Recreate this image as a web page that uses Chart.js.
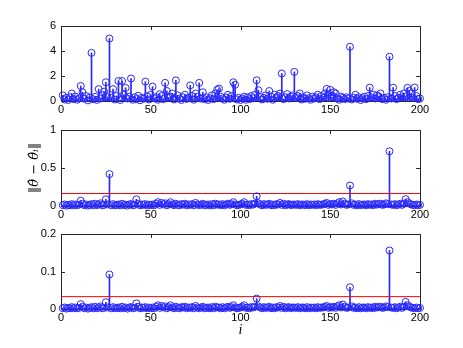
<!DOCTYPE html>
<html>
<head>
<meta charset="utf-8">
<script src="https://cdn.jsdelivr.net/npm/chart.js@4.4.1/dist/chart.umd.min.js"></script>
<style>
  html, body { margin: 0; padding: 0; background: #fff; }
  #wrap { position: relative; width: 463px; height: 348px; }
  canvas { position: absolute; left: 0; }
</style>
</head>
<body>
<div id="wrap">
  <canvas id="top" width="463" height="116" style="top:0px"></canvas>
  <canvas id="mid" width="463" height="106" style="top:116px"></canvas>
  <canvas id="bot" width="463" height="126" style="top:222px"></canvas>
</div>
<script>
// values, i = 1..200
const errTop = [
  0.45, 0.12, 0.25, 0.08, 0.3, 0.6, 0.15, 0.35, 0.1, 0.22,
  1.2, 0.7, 0.18, 0.4, 0.05, 0.28, 3.85, 0.14, 0.33, 0.09,
  0.95, 0.2, 0.45, 0.75, 1.5, 0.3, 5.0, 0.25, 0.95, 0.12,
  0.4, 1.6, 0.08, 1.6, 0.5, 1.05, 0.2, 0.35, 1.8, 0.1,
  0.3, 0.15, 0.42, 0.06, 0.25, 0.18, 1.55, 0.38, 0.12, 0.5,
  1.15, 0.22, 0.3, 0.1, 0.55, 0.4, 0.15, 1.45, 0.8, 0.28,
  0.35, 0.6, 0.12, 1.65, 0.45, 0.2, 0.08, 0.3, 0.5, 0.17,
  0.25, 1.25, 0.4, 0.1, 0.6, 0.33, 1.45, 0.2, 0.7, 0.14,
  0.3, 0.08, 0.22, 0.45, 0.15, 0.6, 0.9, 1.0, 0.35, 0.2,
  0.1, 0.28, 0.5, 0.18, 0.4, 1.5, 1.3, 0.12, 0.25, 0.08,
  0.2, 0.35, 0.1, 0.3, 0.15, 0.4, 0.22, 0.5, 1.66, 0.86,
  0.3, 0.12, 0.25, 0.45, 0.18, 0.8, 0.35, 0.1, 0.5, 0.28,
  0.4, 0.6, 2.2, 0.15, 0.3, 0.55, 0.2, 0.35, 0.45, 2.33,
  0.25, 0.4, 0.6, 0.12, 0.3, 0.18, 0.45, 0.22, 0.1, 0.35,
  0.2, 0.3, 0.5, 0.15, 0.4, 0.25, 0.6, 0.97, 0.55, 0.9,
  0.3, 0.7, 0.6, 0.2, 0.1, 0.35, 0.25, 0.15, 0.3, 0.2,
  4.34, 0.12, 0.25, 0.5, 0.18, 0.3, 0.08, 0.22, 0.35, 0.15,
  0.4, 1.07, 0.3, 0.5, 0.2, 0.45, 0.35, 0.6, 0.15, 0.25,
  0.1, 0.3, 3.54, 0.2, 1.07, 0.4, 0.15, 0.25, 0.5, 0.3,
  0.6, 0.35, 1.05, 0.8, 0.6, 0.25, 1.08, 0.4, 0.15, 0.2
];
const errMid = [
  0.01, 0.02, 0.005, 0.015, 0.01, 0.025, 0.008, 0.02, 0.012, 0.018,
  0.07, 0.03, 0.01, 0.02, 0.005, 0.015, 0.025, 0.01, 0.03, 0.012,
  0.02, 0.035, 0.01, 0.015, 0.088, 0.02, 0.42, 0.01, 0.025, 0.008,
  0.015, 0.02, 0.01, 0.03, 0.012, 0.018, 0.005, 0.02, 0.025, 0.01,
  0.015, 0.088, 0.03, 0.01, 0.02, 0.015, 0.025, 0.008, 0.018, 0.012,
  0.02, 0.01, 0.03, 0.05, 0.015, 0.04, 0.02, 0.035, 0.01, 0.025,
  0.05, 0.02, 0.012, 0.03, 0.015, 0.01, 0.025, 0.018, 0.03, 0.01,
  0.02, 0.015, 0.025, 0.01, 0.04, 0.02, 0.012, 0.018, 0.03, 0.01,
  0.015, 0.02, 0.008, 0.025, 0.01, 0.03, 0.018, 0.02, 0.012, 0.025,
  0.01, 0.02, 0.03, 0.015, 0.025, 0.05, 0.02, 0.01, 0.015, 0.02,
  0.03, 0.05, 0.015, 0.02, 0.01, 0.025, 0.018, 0.03, 0.128, 0.035,
  0.02, 0.01, 0.025, 0.015, 0.02, 0.03, 0.012, 0.018, 0.01, 0.025,
  0.02, 0.04, 0.015, 0.03, 0.01, 0.02, 0.025, 0.012, 0.018, 0.02,
  0.015, 0.025, 0.01, 0.02, 0.018, 0.012, 0.025, 0.01, 0.02, 0.015,
  0.02, 0.012, 0.025, 0.015, 0.018, 0.02, 0.03, 0.04, 0.015, 0.025,
  0.02, 0.03, 0.015, 0.035, 0.05, 0.02, 0.06, 0.03, 0.015, 0.02,
  0.27, 0.035, 0.015, 0.02, 0.01, 0.025, 0.012, 0.018, 0.02, 0.01,
  0.025, 0.015, 0.02, 0.012, 0.03, 0.018, 0.025, 0.03, 0.015, 0.02,
  0.035, 0.025, 0.72, 0.02, 0.015, 0.025, 0.01, 0.02, 0.03, 0.015,
  0.03, 0.09, 0.05, 0.035, 0.02, 0.015, 0.01, 0.02, 0.012, 0.015
];
const errBot = [
  0.002, 0.004, 0.001, 0.003, 0.002, 0.005, 0.002, 0.004, 0.002, 0.003,
  0.013, 0.006, 0.002, 0.004, 0.001, 0.003, 0.005, 0.002, 0.006, 0.002,
  0.004, 0.007, 0.002, 0.003, 0.018, 0.004, 0.092, 0.002, 0.005, 0.002,
  0.003, 0.004, 0.002, 0.006, 0.002, 0.004, 0.001, 0.004, 0.005, 0.002,
  0.003, 0.015, 0.006, 0.002, 0.004, 0.003, 0.005, 0.002, 0.004, 0.002,
  0.004, 0.002, 0.006, 0.01, 0.003, 0.008, 0.004, 0.007, 0.002, 0.005,
  0.01, 0.004, 0.002, 0.006, 0.003, 0.002, 0.005, 0.004, 0.006, 0.002,
  0.004, 0.003, 0.005, 0.002, 0.008, 0.004, 0.002, 0.004, 0.006, 0.002,
  0.003, 0.004, 0.002, 0.005, 0.002, 0.006, 0.004, 0.004, 0.002, 0.005,
  0.002, 0.004, 0.006, 0.003, 0.005, 0.01, 0.004, 0.002, 0.003, 0.004,
  0.006, 0.01, 0.003, 0.004, 0.002, 0.005, 0.004, 0.006, 0.0276, 0.007,
  0.004, 0.002, 0.005, 0.003, 0.004, 0.006, 0.002, 0.004, 0.002, 0.005,
  0.004, 0.008, 0.003, 0.006, 0.002, 0.004, 0.005, 0.002, 0.004, 0.004,
  0.003, 0.005, 0.002, 0.004, 0.004, 0.002, 0.005, 0.002, 0.004, 0.003,
  0.004, 0.002, 0.005, 0.003, 0.004, 0.004, 0.006, 0.008, 0.003, 0.005,
  0.004, 0.006, 0.003, 0.007, 0.01, 0.004, 0.012, 0.006, 0.003, 0.004,
  0.058, 0.007, 0.003, 0.004, 0.002, 0.005, 0.002, 0.004, 0.004, 0.002,
  0.005, 0.003, 0.004, 0.002, 0.006, 0.004, 0.005, 0.006, 0.003, 0.004,
  0.007, 0.005, 0.156, 0.004, 0.003, 0.005, 0.002, 0.004, 0.006, 0.003,
  0.006, 0.019, 0.01, 0.007, 0.004, 0.003, 0.002, 0.004, 0.002, 0.003
];
const thresholdMid = 0.164;
const thresholdBot = 0.033;
const xTicks = [0, 50, 100, 150, 200];
const yTicksTop = [0, 2, 4, 6];
const yTicksMid = [0, 0.5, 1];
const yTicksBot = [0, 0.1, 0.2];

const BLUE = 'rgb(40,40,255)';
const tickFont = { family: 'Liberation Sans', size: 11 };

// box + inward tick marks, matlab style
const framePlugin = {
  id: 'frame',
  beforeDatasetsDraw(chart) {
    const { ctx, chartArea: a, scales } = chart;
    ctx.save();
    ctx.strokeStyle = '#262626';
    ctx.lineWidth = 1;
    ctx.beginPath();
    ctx.rect(Math.round(a.left) + 0.5, Math.round(a.top) + 0.5,
             Math.round(a.right - a.left), Math.round(a.bottom - a.top));
    const tl = 4;
    scales.x.ticks.forEach(t => {
      const px = Math.round(scales.x.getPixelForValue(t.value)) + 0.5;
      ctx.moveTo(px, a.bottom); ctx.lineTo(px, a.bottom - tl);
      ctx.moveTo(px, a.top); ctx.lineTo(px, a.top + tl);
    });
    scales.y.ticks.forEach(t => {
      const py = Math.round(scales.y.getPixelForValue(t.value)) + 0.5;
      ctx.moveTo(a.left, py); ctx.lineTo(a.left + tl, py);
      ctx.moveTo(a.right, py); ctx.lineTo(a.right - tl, py);
    });
    ctx.stroke();
    ctx.restore();
  }
};

function makeStem(id, values, yTicks, threshold, cfg) {
  const pts = values.map((v, i) => ({ x: i + 1, y: v }));
  const datasets = [
    {
      type: 'bar', data: pts, backgroundColor: BLUE, borderWidth: 0,
      barThickness: 1, grouped: false, order: 3
    },
    {
      type: 'scatter', data: pts, pointStyle: 'circle', pointRadius: 3.5,
      pointBorderWidth: 1, pointBorderColor: BLUE,
      pointBackgroundColor: 'rgba(0,0,0,0)', clip: 6, order: 1
    }
  ];
  if (threshold !== null) {
    datasets.push({
      type: 'line', data: [{ x: 0, y: threshold }, { x: 200, y: threshold }],
      borderColor: '#ff0000', borderWidth: 1, pointRadius: 0, order: 2
    });
  }
  return new Chart(document.getElementById(id), {
    type: 'scatter',
    data: { datasets },
    options: {
      responsive: false,
      animation: false,
      events: [],
      layout: { padding: { left: 0, right: 43, top: cfg.padTop, bottom: 0 } },
      plugins: { legend: { display: false }, tooltip: { enabled: false } },
      scales: {
        x: {
          type: 'linear', min: 0, max: 200, offset: false,
          afterBuildTicks: s => { s.ticks = xTicks.map(v => ({ value: v })); },
          ticks: { font: tickFont, color: '#000', padding: 2, maxRotation: 0,
                   callback: v => String(v) },
          grid: { display: false, drawTicks: false, offset: false },
          border: { display: false },
          title: cfg.xTitle ? {
            display: true, text: 'i', color: '#000',
            font: { family: 'Liberation Serif', size: 14, style: 'italic' },
            padding: { top: 0, bottom: 9 }
          } : { display: false },
          afterFit: s => { s.height = cfg.xHeight; }
        },
        y: {
          type: 'linear', min: yTicks[0], max: yTicks[yTicks.length - 1],
          afterBuildTicks: s => { s.ticks = yTicks.map(v => ({ value: v })); },
          ticks: { font: tickFont, color: '#000', padding: 5,
                   callback: v => String(v) },
          grid: { display: false, drawTicks: false },
          border: { display: false },
          title: cfg.yTitle ? {
            display: true, text: cfg.yTitle, color: '#000',
            font: { family: 'DejaVu Serif', size: 13, style: 'italic' },
            padding: { top: 27, bottom: 0 }
          } : { display: false },
          afterFit: s => { s.width = 61; }
        }
      }
    },
    plugins: [framePlugin]
  });
}

makeStem('top', errTop, yTicksTop, null, { padTop: 26, xHeight: 15 });
makeStem('mid', errMid, yTicksMid, thresholdMid,
  { padTop: 14, xHeight: 16, yTitle: '\u2016\u03B8\u0302 \u2212 \u03B8\u0302\u1D62\u2016' });
makeStem('bot', errBot, yTicksBot, thresholdBot, { padTop: 12, xHeight: 39, xTitle: true });
</script>
</body>
</html>
